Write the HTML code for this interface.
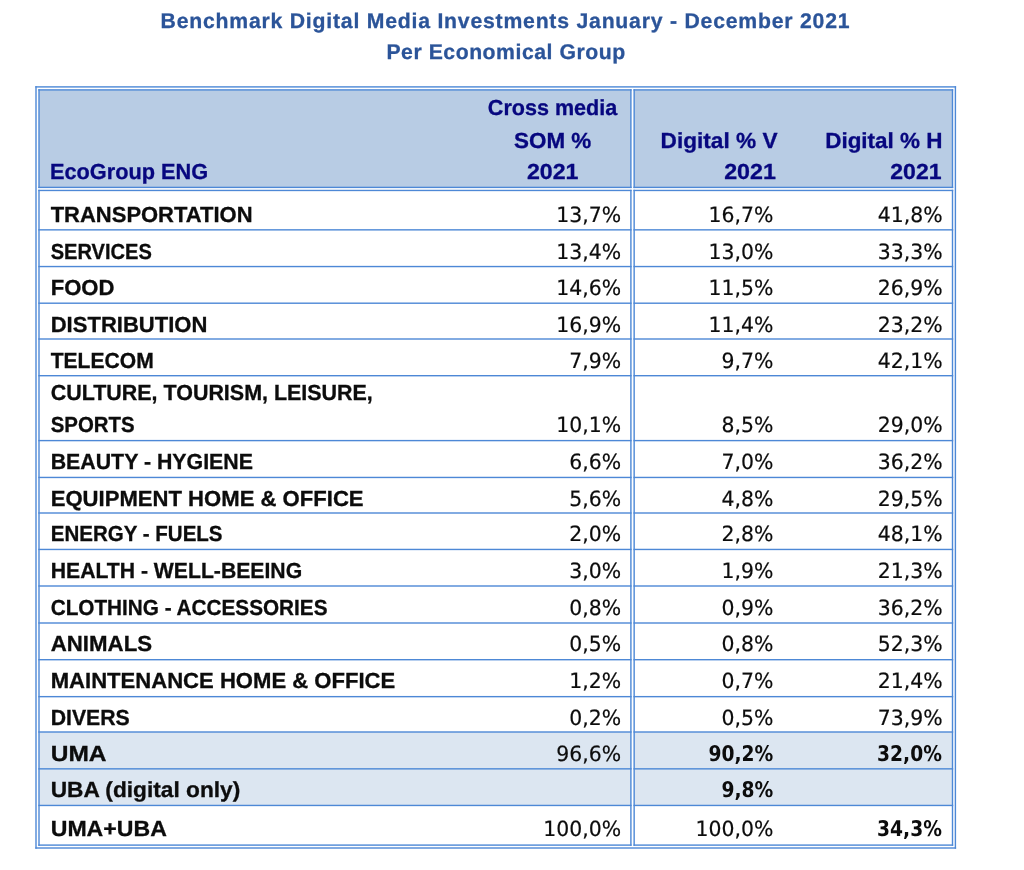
<!DOCTYPE html>
<html lang="en"><head><meta charset="utf-8"><title>Benchmark Digital Media Investments January - December 2021</title>
<style>
html,body{margin:0;padding:0;background:#fff;}
body{width:1024px;height:870px;position:relative;overflow:hidden;font-family:"Liberation Sans",sans-serif;}
svg{position:absolute;left:0;top:0;}
.t{position:absolute;left:0;white-space:nowrap;line-height:1em;transform-origin:0 0;display:block;text-rendering:geometricPrecision;}
.n{-webkit-text-stroke:0.2px currentColor;}
.l{-webkit-text-stroke:0.3px currentColor;}
</style></head><body>
<svg width="1024" height="870" viewBox="0 0 1024 870">
<rect x="39.00" y="89.90" width="591.90" height="97.50" fill="#b8cce4"/>
<rect x="634.15" y="89.90" width="318.35" height="97.50" fill="#b8cce4"/>
<rect x="39.00" y="732.00" width="591.90" height="73.45" fill="#dce6f1"/>
<rect x="634.15" y="732.00" width="318.35" height="73.45" fill="#dce6f1"/>
<rect x="35.30" y="86.20" width="920.80" height="1.40" fill="#4d88d6"/>
<rect x="35.30" y="847.30" width="920.80" height="1.40" fill="#4d88d6"/>
<rect x="35.30" y="86.20" width="1.40" height="762.50" fill="#4d88d6"/>
<rect x="954.70" y="86.20" width="1.40" height="762.50" fill="#4d88d6"/>
<rect x="38.30" y="89.20" width="593.30" height="1.40" fill="#4d88d6"/>
<rect x="38.30" y="186.70" width="593.30" height="1.40" fill="#4d88d6"/>
<rect x="38.30" y="189.75" width="593.30" height="1.40" fill="#4d88d6"/>
<rect x="38.30" y="229.15" width="593.30" height="1.40" fill="#4d88d6"/>
<rect x="38.30" y="265.85" width="593.30" height="1.40" fill="#4d88d6"/>
<rect x="38.30" y="302.50" width="593.30" height="1.40" fill="#4d88d6"/>
<rect x="38.30" y="338.30" width="593.30" height="1.40" fill="#4d88d6"/>
<rect x="38.30" y="375.00" width="593.30" height="1.40" fill="#4d88d6"/>
<rect x="38.30" y="439.90" width="593.30" height="1.40" fill="#4d88d6"/>
<rect x="38.30" y="476.75" width="593.30" height="1.40" fill="#4d88d6"/>
<rect x="38.30" y="512.30" width="593.30" height="1.40" fill="#4d88d6"/>
<rect x="38.30" y="548.75" width="593.30" height="1.40" fill="#4d88d6"/>
<rect x="38.30" y="585.30" width="593.30" height="1.40" fill="#4d88d6"/>
<rect x="38.30" y="622.30" width="593.30" height="1.40" fill="#4d88d6"/>
<rect x="38.30" y="659.00" width="593.30" height="1.40" fill="#4d88d6"/>
<rect x="38.30" y="695.95" width="593.30" height="1.40" fill="#4d88d6"/>
<rect x="38.30" y="731.30" width="593.30" height="1.40" fill="#4d88d6"/>
<rect x="38.30" y="768.15" width="593.30" height="1.40" fill="#4d88d6"/>
<rect x="38.30" y="804.75" width="593.30" height="1.40" fill="#4d88d6"/>
<rect x="38.30" y="844.40" width="593.30" height="1.40" fill="#4d88d6"/>
<rect x="38.30" y="89.20" width="1.40" height="98.90" fill="#4d88d6"/>
<rect x="38.30" y="189.75" width="1.40" height="656.05" fill="#4d88d6"/>
<rect x="630.20" y="89.20" width="1.40" height="98.90" fill="#4d88d6"/>
<rect x="630.20" y="189.75" width="1.40" height="656.05" fill="#4d88d6"/>
<rect x="633.45" y="89.20" width="319.75" height="1.40" fill="#4d88d6"/>
<rect x="633.45" y="186.70" width="319.75" height="1.40" fill="#4d88d6"/>
<rect x="633.45" y="189.75" width="319.75" height="1.40" fill="#4d88d6"/>
<rect x="633.45" y="229.15" width="319.75" height="1.40" fill="#4d88d6"/>
<rect x="633.45" y="265.85" width="319.75" height="1.40" fill="#4d88d6"/>
<rect x="633.45" y="302.50" width="319.75" height="1.40" fill="#4d88d6"/>
<rect x="633.45" y="338.30" width="319.75" height="1.40" fill="#4d88d6"/>
<rect x="633.45" y="375.00" width="319.75" height="1.40" fill="#4d88d6"/>
<rect x="633.45" y="439.90" width="319.75" height="1.40" fill="#4d88d6"/>
<rect x="633.45" y="476.75" width="319.75" height="1.40" fill="#4d88d6"/>
<rect x="633.45" y="512.30" width="319.75" height="1.40" fill="#4d88d6"/>
<rect x="633.45" y="548.75" width="319.75" height="1.40" fill="#4d88d6"/>
<rect x="633.45" y="585.30" width="319.75" height="1.40" fill="#4d88d6"/>
<rect x="633.45" y="622.30" width="319.75" height="1.40" fill="#4d88d6"/>
<rect x="633.45" y="659.00" width="319.75" height="1.40" fill="#4d88d6"/>
<rect x="633.45" y="695.95" width="319.75" height="1.40" fill="#4d88d6"/>
<rect x="633.45" y="731.30" width="319.75" height="1.40" fill="#4d88d6"/>
<rect x="633.45" y="768.15" width="319.75" height="1.40" fill="#4d88d6"/>
<rect x="633.45" y="804.75" width="319.75" height="1.40" fill="#4d88d6"/>
<rect x="633.45" y="844.40" width="319.75" height="1.40" fill="#4d88d6"/>
<rect x="633.45" y="89.20" width="1.40" height="98.90" fill="#4d88d6"/>
<rect x="633.45" y="189.75" width="1.40" height="656.05" fill="#4d88d6"/>
<rect x="951.80" y="89.20" width="1.40" height="98.90" fill="#4d88d6"/>
<rect x="951.80" y="189.75" width="1.40" height="656.05" fill="#4d88d6"/>
</svg>
<span class="t l" style="top:11px;font-family:'Liberation Sans',sans-serif;font-weight:700;font-size:21.20px;letter-spacing:0.793px;color:#2b5499;transform:translateX(160.55px) scaleX(1.0000)">Benchmark Digital Media Investments January - December 2021</span>
<span class="t l" style="top:42px;font-family:'Liberation Sans',sans-serif;font-weight:700;font-size:21.20px;letter-spacing:0.541px;color:#2b5499;transform:translateX(386.44px) scaleX(1.0000)">Per Economical Group</span>
<span class="t l" style="top:161px;font-family:'Liberation Sans',sans-serif;font-weight:700;font-size:21.80px;color:#07077f;transform:translateX(49.97px) scaleX(0.9971)">EcoGroup ENG</span>
<span class="t l" style="top:97px;font-family:'Liberation Sans',sans-serif;font-weight:700;font-size:21.80px;color:#07077f;transform:translateX(487.84px) scaleX(0.9890)">Cross media</span>
<span class="t l" style="top:130px;font-family:'Liberation Sans',sans-serif;font-weight:700;font-size:21.80px;color:#07077f;transform:translateX(514.03px) scaleX(1.0284)">SOM %</span>
<span class="t l" style="top:161px;font-family:'Liberation Sans',sans-serif;font-weight:700;font-size:21.80px;color:#07077f;transform:translateX(526.88px) scaleX(1.0634)">2021</span>
<span class="t l" style="top:130px;font-family:'Liberation Sans',sans-serif;font-weight:700;font-size:21.80px;color:#07077f;transform:translateX(660.62px) scaleX(1.0375)">Digital % V</span>
<span class="t l" style="top:161px;font-family:'Liberation Sans',sans-serif;font-weight:700;font-size:21.80px;color:#07077f;transform:translateX(724.16px) scaleX(1.0669)">2021</span>
<span class="t l" style="top:130px;font-family:'Liberation Sans',sans-serif;font-weight:700;font-size:21.80px;color:#07077f;transform:translateX(825.19px) scaleX(1.0304)">Digital % H</span>
<span class="t l" style="top:161px;font-family:'Liberation Sans',sans-serif;font-weight:700;font-size:21.80px;color:#07077f;transform:translateX(890.27px) scaleX(1.0564)">2021</span>
<span class="t l" style="top:204px;font-family:'Liberation Sans',sans-serif;font-weight:700;font-size:21.80px;color:#0c0c0c;transform:translateX(50.70px) scaleX(1.0080)">TRANSPORTATION</span>
<span class="t n" style="top:205px;font-family:'DejaVu Sans','Liberation Sans',sans-serif;font-weight:400;font-size:21.00px;color:#0c0c0c;transform:translateX(556.24px) scaleX(0.9715)">13,7%</span>
<span class="t n" style="top:205px;font-family:'DejaVu Sans','Liberation Sans',sans-serif;font-weight:400;font-size:21.00px;color:#0c0c0c;transform:translateX(708.54px) scaleX(0.9715)">16,7%</span>
<span class="t n" style="top:205px;font-family:'DejaVu Sans','Liberation Sans',sans-serif;font-weight:400;font-size:21.00px;color:#0c0c0c;transform:translateX(877.74px) scaleX(0.9715)">41,8%</span>
<span class="t l" style="top:241px;font-family:'Liberation Sans',sans-serif;font-weight:700;font-size:21.80px;color:#0c0c0c;transform:translateX(50.70px) scaleX(0.9207)">SERVICES</span>
<span class="t n" style="top:242px;font-family:'DejaVu Sans','Liberation Sans',sans-serif;font-weight:400;font-size:21.00px;color:#0c0c0c;transform:translateX(556.24px) scaleX(0.9715)">13,4%</span>
<span class="t n" style="top:242px;font-family:'DejaVu Sans','Liberation Sans',sans-serif;font-weight:400;font-size:21.00px;color:#0c0c0c;transform:translateX(708.54px) scaleX(0.9715)">13,0%</span>
<span class="t n" style="top:242px;font-family:'DejaVu Sans','Liberation Sans',sans-serif;font-weight:400;font-size:21.00px;color:#0c0c0c;transform:translateX(877.74px) scaleX(0.9715)">33,3%</span>
<span class="t l" style="top:277px;font-family:'Liberation Sans',sans-serif;font-weight:700;font-size:21.80px;color:#0c0c0c;transform:translateX(50.70px) scaleX(1.0129)">FOOD</span>
<span class="t n" style="top:278px;font-family:'DejaVu Sans','Liberation Sans',sans-serif;font-weight:400;font-size:21.00px;color:#0c0c0c;transform:translateX(556.24px) scaleX(0.9715)">14,6%</span>
<span class="t n" style="top:278px;font-family:'DejaVu Sans','Liberation Sans',sans-serif;font-weight:400;font-size:21.00px;color:#0c0c0c;transform:translateX(708.54px) scaleX(0.9715)">11,5%</span>
<span class="t n" style="top:278px;font-family:'DejaVu Sans','Liberation Sans',sans-serif;font-weight:400;font-size:21.00px;color:#0c0c0c;transform:translateX(877.74px) scaleX(0.9715)">26,9%</span>
<span class="t l" style="top:314px;font-family:'Liberation Sans',sans-serif;font-weight:700;font-size:21.80px;color:#0c0c0c;transform:translateX(50.70px) scaleX(1.0109)">DISTRIBUTION</span>
<span class="t n" style="top:315px;font-family:'DejaVu Sans','Liberation Sans',sans-serif;font-weight:400;font-size:21.00px;color:#0c0c0c;transform:translateX(556.24px) scaleX(0.9715)">16,9%</span>
<span class="t n" style="top:315px;font-family:'DejaVu Sans','Liberation Sans',sans-serif;font-weight:400;font-size:21.00px;color:#0c0c0c;transform:translateX(708.54px) scaleX(0.9715)">11,4%</span>
<span class="t n" style="top:315px;font-family:'DejaVu Sans','Liberation Sans',sans-serif;font-weight:400;font-size:21.00px;color:#0c0c0c;transform:translateX(877.74px) scaleX(0.9715)">23,2%</span>
<span class="t l" style="top:350px;font-family:'Liberation Sans',sans-serif;font-weight:700;font-size:21.80px;color:#0c0c0c;transform:translateX(50.70px) scaleX(0.9664)">TELECOM</span>
<span class="t n" style="top:351px;font-family:'DejaVu Sans','Liberation Sans',sans-serif;font-weight:400;font-size:21.00px;color:#0c0c0c;transform:translateX(569.22px) scaleX(0.9715)">7,9%</span>
<span class="t n" style="top:351px;font-family:'DejaVu Sans','Liberation Sans',sans-serif;font-weight:400;font-size:21.00px;color:#0c0c0c;transform:translateX(721.52px) scaleX(0.9715)">9,7%</span>
<span class="t n" style="top:351px;font-family:'DejaVu Sans','Liberation Sans',sans-serif;font-weight:400;font-size:21.00px;color:#0c0c0c;transform:translateX(877.74px) scaleX(0.9715)">42,1%</span>
<span class="t l" style="top:414px;font-family:'Liberation Sans',sans-serif;font-weight:700;font-size:21.80px;color:#0c0c0c;transform:translateX(50.70px) scaleX(0.9368)">SPORTS</span>
<span class="t n" style="top:415px;font-family:'DejaVu Sans','Liberation Sans',sans-serif;font-weight:400;font-size:21.00px;color:#0c0c0c;transform:translateX(556.24px) scaleX(0.9715)">10,1%</span>
<span class="t n" style="top:415px;font-family:'DejaVu Sans','Liberation Sans',sans-serif;font-weight:400;font-size:21.00px;color:#0c0c0c;transform:translateX(721.52px) scaleX(0.9715)">8,5%</span>
<span class="t n" style="top:415px;font-family:'DejaVu Sans','Liberation Sans',sans-serif;font-weight:400;font-size:21.00px;color:#0c0c0c;transform:translateX(877.74px) scaleX(0.9715)">29,0%</span>
<span class="t l" style="top:451px;font-family:'Liberation Sans',sans-serif;font-weight:700;font-size:21.80px;color:#0c0c0c;transform:translateX(50.70px) scaleX(0.9783)">BEAUTY - HYGIENE</span>
<span class="t n" style="top:452px;font-family:'DejaVu Sans','Liberation Sans',sans-serif;font-weight:400;font-size:21.00px;color:#0c0c0c;transform:translateX(569.22px) scaleX(0.9715)">6,6%</span>
<span class="t n" style="top:452px;font-family:'DejaVu Sans','Liberation Sans',sans-serif;font-weight:400;font-size:21.00px;color:#0c0c0c;transform:translateX(721.52px) scaleX(0.9715)">7,0%</span>
<span class="t n" style="top:452px;font-family:'DejaVu Sans','Liberation Sans',sans-serif;font-weight:400;font-size:21.00px;color:#0c0c0c;transform:translateX(877.74px) scaleX(0.9715)">36,2%</span>
<span class="t l" style="top:488px;font-family:'Liberation Sans',sans-serif;font-weight:700;font-size:21.80px;color:#0c0c0c;transform:translateX(50.70px) scaleX(1.0132)">EQUIPMENT HOME &amp; OFFICE</span>
<span class="t n" style="top:489px;font-family:'DejaVu Sans','Liberation Sans',sans-serif;font-weight:400;font-size:21.00px;color:#0c0c0c;transform:translateX(569.22px) scaleX(0.9715)">5,6%</span>
<span class="t n" style="top:489px;font-family:'DejaVu Sans','Liberation Sans',sans-serif;font-weight:400;font-size:21.00px;color:#0c0c0c;transform:translateX(721.52px) scaleX(0.9715)">4,8%</span>
<span class="t n" style="top:489px;font-family:'DejaVu Sans','Liberation Sans',sans-serif;font-weight:400;font-size:21.00px;color:#0c0c0c;transform:translateX(877.74px) scaleX(0.9715)">29,5%</span>
<span class="t l" style="top:523px;font-family:'Liberation Sans',sans-serif;font-weight:700;font-size:21.80px;color:#0c0c0c;transform:translateX(50.70px) scaleX(0.9418)">ENERGY - FUELS</span>
<span class="t n" style="top:524px;font-family:'DejaVu Sans','Liberation Sans',sans-serif;font-weight:400;font-size:21.00px;color:#0c0c0c;transform:translateX(569.22px) scaleX(0.9715)">2,0%</span>
<span class="t n" style="top:524px;font-family:'DejaVu Sans','Liberation Sans',sans-serif;font-weight:400;font-size:21.00px;color:#0c0c0c;transform:translateX(721.52px) scaleX(0.9715)">2,8%</span>
<span class="t n" style="top:524px;font-family:'DejaVu Sans','Liberation Sans',sans-serif;font-weight:400;font-size:21.00px;color:#0c0c0c;transform:translateX(877.74px) scaleX(0.9715)">48,1%</span>
<span class="t l" style="top:560px;font-family:'Liberation Sans',sans-serif;font-weight:700;font-size:21.80px;color:#0c0c0c;transform:translateX(50.70px) scaleX(0.9718)">HEALTH - WELL-BEEING</span>
<span class="t n" style="top:561px;font-family:'DejaVu Sans','Liberation Sans',sans-serif;font-weight:400;font-size:21.00px;color:#0c0c0c;transform:translateX(569.22px) scaleX(0.9715)">3,0%</span>
<span class="t n" style="top:561px;font-family:'DejaVu Sans','Liberation Sans',sans-serif;font-weight:400;font-size:21.00px;color:#0c0c0c;transform:translateX(721.52px) scaleX(0.9715)">1,9%</span>
<span class="t n" style="top:561px;font-family:'DejaVu Sans','Liberation Sans',sans-serif;font-weight:400;font-size:21.00px;color:#0c0c0c;transform:translateX(877.74px) scaleX(0.9715)">21,3%</span>
<span class="t l" style="top:597px;font-family:'Liberation Sans',sans-serif;font-weight:700;font-size:21.80px;color:#0c0c0c;transform:translateX(50.70px) scaleX(0.9510)">CLOTHING - ACCESSORIES</span>
<span class="t n" style="top:598px;font-family:'DejaVu Sans','Liberation Sans',sans-serif;font-weight:400;font-size:21.00px;color:#0c0c0c;transform:translateX(569.22px) scaleX(0.9715)">0,8%</span>
<span class="t n" style="top:598px;font-family:'DejaVu Sans','Liberation Sans',sans-serif;font-weight:400;font-size:21.00px;color:#0c0c0c;transform:translateX(721.52px) scaleX(0.9715)">0,9%</span>
<span class="t n" style="top:598px;font-family:'DejaVu Sans','Liberation Sans',sans-serif;font-weight:400;font-size:21.00px;color:#0c0c0c;transform:translateX(877.74px) scaleX(0.9715)">36,2%</span>
<span class="t l" style="top:633px;font-family:'Liberation Sans',sans-serif;font-weight:700;font-size:21.80px;color:#0c0c0c;transform:translateX(50.70px) scaleX(1.0209)">ANIMALS</span>
<span class="t n" style="top:634px;font-family:'DejaVu Sans','Liberation Sans',sans-serif;font-weight:400;font-size:21.00px;color:#0c0c0c;transform:translateX(569.22px) scaleX(0.9715)">0,5%</span>
<span class="t n" style="top:634px;font-family:'DejaVu Sans','Liberation Sans',sans-serif;font-weight:400;font-size:21.00px;color:#0c0c0c;transform:translateX(721.52px) scaleX(0.9715)">0,8%</span>
<span class="t n" style="top:634px;font-family:'DejaVu Sans','Liberation Sans',sans-serif;font-weight:400;font-size:21.00px;color:#0c0c0c;transform:translateX(877.74px) scaleX(0.9715)">52,3%</span>
<span class="t l" style="top:670px;font-family:'Liberation Sans',sans-serif;font-weight:700;font-size:21.80px;color:#0c0c0c;transform:translateX(50.70px) scaleX(1.0125)">MAINTENANCE HOME &amp; OFFICE</span>
<span class="t n" style="top:671px;font-family:'DejaVu Sans','Liberation Sans',sans-serif;font-weight:400;font-size:21.00px;color:#0c0c0c;transform:translateX(569.22px) scaleX(0.9715)">1,2%</span>
<span class="t n" style="top:671px;font-family:'DejaVu Sans','Liberation Sans',sans-serif;font-weight:400;font-size:21.00px;color:#0c0c0c;transform:translateX(721.52px) scaleX(0.9715)">0,7%</span>
<span class="t n" style="top:671px;font-family:'DejaVu Sans','Liberation Sans',sans-serif;font-weight:400;font-size:21.00px;color:#0c0c0c;transform:translateX(877.74px) scaleX(0.9715)">21,4%</span>
<span class="t l" style="top:707px;font-family:'Liberation Sans',sans-serif;font-weight:700;font-size:21.80px;color:#0c0c0c;transform:translateX(50.70px) scaleX(0.9743)">DIVERS</span>
<span class="t n" style="top:708px;font-family:'DejaVu Sans','Liberation Sans',sans-serif;font-weight:400;font-size:21.00px;color:#0c0c0c;transform:translateX(569.22px) scaleX(0.9715)">0,2%</span>
<span class="t n" style="top:708px;font-family:'DejaVu Sans','Liberation Sans',sans-serif;font-weight:400;font-size:21.00px;color:#0c0c0c;transform:translateX(721.52px) scaleX(0.9715)">0,5%</span>
<span class="t n" style="top:708px;font-family:'DejaVu Sans','Liberation Sans',sans-serif;font-weight:400;font-size:21.00px;color:#0c0c0c;transform:translateX(877.74px) scaleX(0.9715)">73,9%</span>
<span class="t l" style="top:743px;font-family:'Liberation Sans',sans-serif;font-weight:700;font-size:21.80px;color:#0c0c0c;transform:translateX(50.70px) scaleX(1.1236)">UMA</span>
<span class="t n" style="top:744px;font-family:'DejaVu Sans','Liberation Sans',sans-serif;font-weight:400;font-size:21.00px;color:#0c0c0c;transform:translateX(556.24px) scaleX(0.9715)">96,6%</span>
<span class="t b" style="top:744px;font-family:'DejaVu Sans','Liberation Sans',sans-serif;font-weight:700;font-size:21.60px;color:#0c0c0c;transform:translateX(708.51px) scaleX(0.8653)">90,2%</span>
<span class="t b" style="top:744px;font-family:'DejaVu Sans','Liberation Sans',sans-serif;font-weight:700;font-size:21.60px;color:#0c0c0c;transform:translateX(877.11px) scaleX(0.8653)">32,0%</span>
<span class="t l" style="top:779px;font-family:'Liberation Sans',sans-serif;font-weight:700;font-size:21.80px;color:#0c0c0c;transform:translateX(50.70px) scaleX(1.0413)">UBA (digital only)</span>
<span class="t b" style="top:780px;font-family:'DejaVu Sans','Liberation Sans',sans-serif;font-weight:700;font-size:21.60px;color:#0c0c0c;transform:translateX(721.51px) scaleX(0.8653)">9,8%</span>
<span class="t l" style="top:818px;font-family:'Liberation Sans',sans-serif;font-weight:700;font-size:21.80px;color:#0c0c0c;transform:translateX(50.70px) scaleX(1.0596)">UMA+UBA</span>
<span class="t n" style="top:819px;font-family:'DejaVu Sans','Liberation Sans',sans-serif;font-weight:400;font-size:21.00px;color:#0c0c0c;transform:translateX(543.26px) scaleX(0.9715)">100,0%</span>
<span class="t n" style="top:819px;font-family:'DejaVu Sans','Liberation Sans',sans-serif;font-weight:400;font-size:21.00px;color:#0c0c0c;transform:translateX(695.56px) scaleX(0.9715)">100,0%</span>
<span class="t b" style="top:819px;font-family:'DejaVu Sans','Liberation Sans',sans-serif;font-weight:700;font-size:21.60px;color:#0c0c0c;transform:translateX(877.11px) scaleX(0.8653)">34,3%</span>
<span class="t l" style="top:382px;font-family:'Liberation Sans',sans-serif;font-weight:700;font-size:21.80px;color:#0c0c0c;transform:translateX(50.70px) scaleX(0.9840)">CULTURE, TOURISM, LEISURE,</span>
</body></html>
